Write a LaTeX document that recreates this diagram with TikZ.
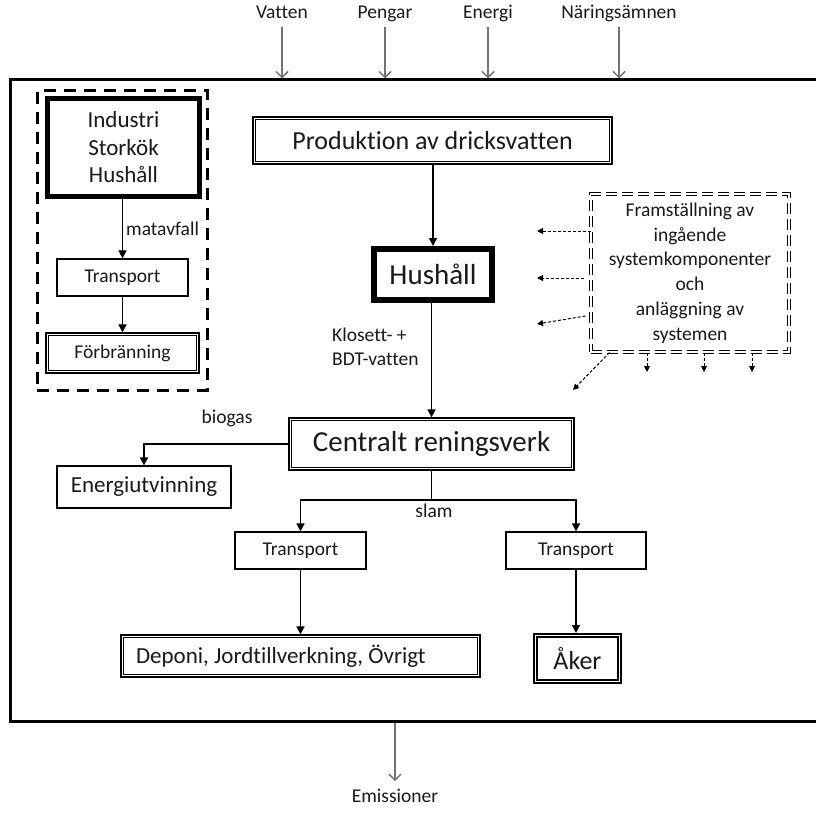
\documentclass[tikz,border=0pt]{standalone}
\usepackage{fontspec}
\setmainfont[Ligatures=CommonOff]{Carlito}
\usetikzlibrary{arrows.meta,calc}
% inner frame of a double-bordered box: node name, inset, line width
\newcommand\innerframe[3]{\draw[line width=#3] ([shift={(#2,#2)}]#1.north west) rectangle ([shift={(-#2,-#2)}]#1.south east);}
\begin{document}
\frenchspacing
\begin{tikzpicture}[x=1pt,y=-1pt,
  txt/.style={font=\fontsize{#1}{#1}\selectfont, text=black!90},
  lbl/.style={txt=#1, text height=0.7em, text depth=0.22em, inner sep=0pt},
  box/.style={draw, line width=1.2pt, inner sep=0pt, align=center},
  arr/.style={-{Triangle[length=8pt,width=8pt]}, line width=1.5pt},
  garr/.style={-{Straight Barb[length=6pt,width=12pt]}, line width=1.5pt, draw=black!55},
  darr/.style={-{Triangle[length=6pt,width=6pt]}, line width=1pt, dash pattern=on 3pt off 2pt},
]
\useasboundingbox (0,0) rectangle (816,813);

% system boundary
\node[draw, line width=3pt, minimum width=820pt, minimum height=641pt, inner sep=0pt] (outer) at (420,400.5) {};

% inputs and outputs
\node[lbl=19.5] (vatten) at (282,16) {Vatten};
\node[lbl=19.5] (pengar) at (385,16) {Pengar};
\node[lbl=19.5] (energi) at (488,16) {Energi};
\node[lbl=19.5] (naring) at (619,16) {Näringsämnen};
\foreach \n in {vatten,pengar,energi,naring}
  \draw[garr] ([yshift=-6pt]\n.south) -- (\n.south |- outer.north);
\node[lbl=19.5] (emis) at (395,800) {Emissioner};
\draw[garr] (outer.south -| emis) -- ([yshift=14pt]emis.north);

% food waste chain
\node[draw, line width=3pt, dash pattern=on 12pt off 8pt, minimum width=170pt, minimum height=299pt] (leftgrp) at (122,240.5) {};
\node[box, line width=3.5pt, minimum width=153pt, minimum height=99pt, text=black!90, font=\fontsize{23}{27.5}\selectfont] (ind) at (123.5,147.5) {Industri\\Storkök\\Hushåll};
\innerframe{ind}{4}{1.2pt}
\node[box, minimum width=131pt, minimum height=37pt, txt=19.5] (tr1) at (122.5,277.5) {Transport};
\node[box, minimum width=153pt, minimum height=40pt, txt=19.5] (forb) at (122.5,353) {Förbränning};
\innerframe{forb}{3.2}{1.2pt}
\draw[arr] (ind.south -| tr1) -- (tr1.north);
\draw[arr] (tr1.south) -- (forb.north -| tr1);
\node[lbl=19.5, anchor=west] (matavf) at (126,233) {matavfall};

% water and wastewater chain
\node[box, minimum width=359pt, minimum height=47pt, txt=26] (prod) at (432.5,140.5) {Produktion av dricksvatten};
\innerframe{prod}{3.2}{1.2pt}
\node[box, line width=4pt, minimum width=120pt, minimum height=53pt, txt=29] (hush) at (433,274.5) {Hushåll};
\innerframe{hush}{5}{1.2pt}
\node[box, minimum width=285pt, minimum height=52pt, txt=29] (cent) at (431.5,444) {Centralt reningsverk};
\innerframe{cent}{3.2}{1.2pt}
\draw[arr] (prod.south -| hush) -- (hush.north);
\draw[arr] (hush.south -| cent) -- (cent.north);
\node[anchor=west, align=left, inner sep=0pt, text=black!90, font=\fontsize{19.5}{24}\selectfont] (klos) at (332,347) {Klosett- +\\BDT-vatten};

% biogas
\node[box, minimum width=174pt, minimum height=42pt, txt=23] (energ) at (144,487) {Energiutvinning};
\draw[arr] (cent.west) -| (energ.north);
\node[lbl=19.5] (biogas) at (227,421) {biogas};

% sludge
\coordinate (split) at (431.5,500);
\node[box, minimum width=131pt, minimum height=37pt, txt=19.5] (tr2) at (300.5,550.5) {Transport};
\node[box, minimum width=140pt, minimum height=37pt, txt=19.5] (tr3) at (576,550.5) {Transport};
\draw[line width=1.5pt] (cent.south) -- (split);
\draw[arr] (split) -| (tr2.north);
\draw[arr] (split) -| (tr3.north);
\node[lbl=19.5] (slam) at (434,515) {slam};
\node[box, minimum width=359pt, minimum height=42pt, txt=23] (dep) at (300.5,656) {\makebox[329pt][l]{Deponi, Jordtillverkning, Övrigt}};
\innerframe{dep}{3.2}{1.2pt}
\node[box, line width=2pt, minimum width=87pt, minimum height=49pt, txt=26] (aker) at (577.5,658.5) {Åker};
\innerframe{aker}{4}{1.2pt}
\draw[arr] (tr2.south) -- (dep.north -| tr2);
\draw[arr] (tr3.south) -- (aker.north -| tr3);

% manufacturing and construction of the system
\node[draw, double=white, double distance=2pt, line width=1pt, dash pattern=on 11pt off 5pt,
  minimum width=198pt, minimum height=158pt, inner sep=0pt, align=center,
  font=\fontsize{19.5}{24.8}\selectfont, text=black!90] (fram) at (690,273)
  {Framställning av\\ingående\\systemkomponenter\\och\\anläggning av\\systemen};
\coordinate (fl1) at (537,231);
\coordinate (fl2) at (537,278);
\coordinate (fl3) at (537,324);
\coordinate (fd0) at (573,390);
\coordinate (fd1) at (647,372);
\coordinate (fd2) at (704,372);
\coordinate (fd3) at (752,372);
\draw[darr] (fram.west |- fl1) -- (fl1);
\draw[darr] ([xshift=-7pt]fram.west |- fl2) -- (fl2);
\draw[darr] ([xshift=-5pt]fram.west |- 0,316) -- (fl3);
\draw[darr] ([xshift=19pt]fram.south west) -- (fd0);
\foreach \c in {fd1,fd2,fd3}
  \draw[darr] (fram.south -| \c) -- (\c);
\end{tikzpicture}
\end{document}
